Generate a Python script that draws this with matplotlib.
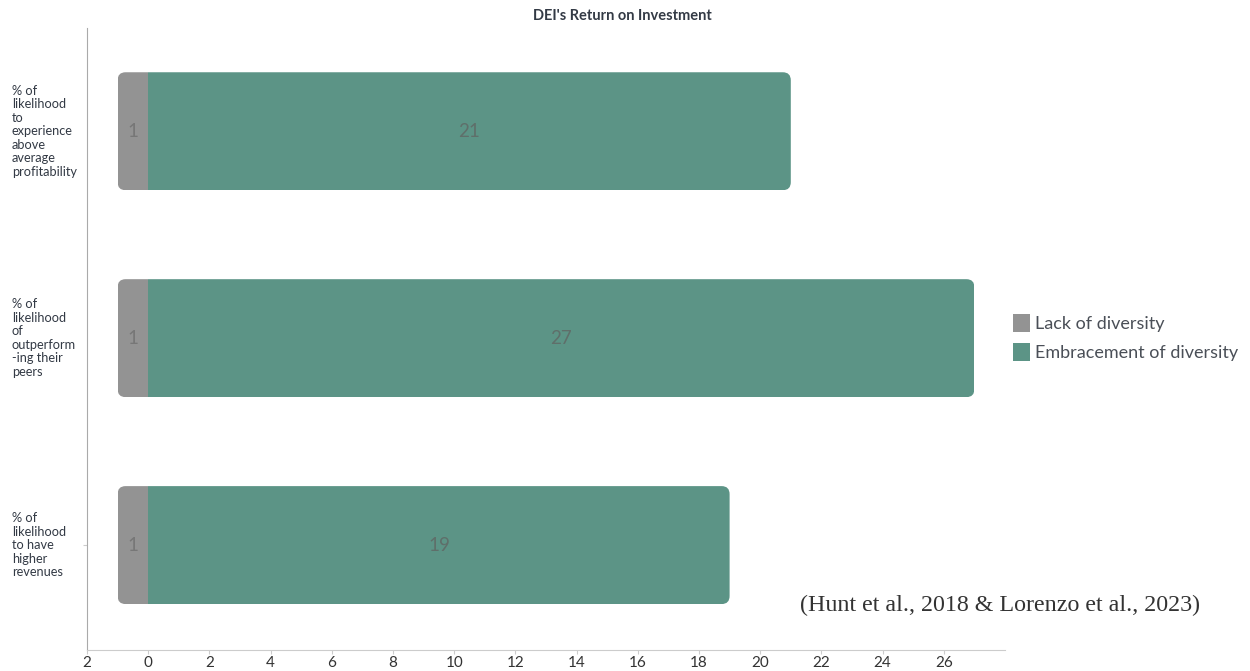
import numpy as np
import matplotlib.pyplot as plt
from matplotlib.patches import FancyBboxPatch

# data
categories = [
    "% of\nlikelihood\nto\nexperience\nabove\naverage\nprofitability",
    "% of\nlikelihood\nof\noutperform\n-ing their\npeers",
    "% of\nlikelihood\nto have\nhigher\nrevenues",
]
lack = [1, 1, 1]
embrace = [21, 27, 19]
x_ticks = list(range(-2, 28, 2))

plt.rcParams['font.family'] = ['Lato', 'DejaVu Sans']

fig = plt.figure(figsize=(12.5, 6.71), dpi=100)
ax = fig.add_axes([0.0696, 0.0313, 0.7344, 0.9267])

y = np.arange(len(categories))
h = 0.57
gray = '#939393'
green = '#5c9486'

ax.set_xlim(-2, 28)
ax.set_ylim(2.507, -0.498)

bars_l = ax.barh(y, [-v for v in lack], height=h, color=gray, label='Lack of diversity')
bars_e = ax.barh(y, embrace, height=h, color=green, label='Embracement of diversity')

# rounded outer corners: clip both segments to a rounded box
for i in range(len(categories)):
    clip = FancyBboxPatch((-lack[i], y[i] - h / 2), lack[i] + embrace[i], h,
                          boxstyle='round,pad=0,rounding_size=0.26',
                          mutation_aspect=0.15, transform=ax.transData,
                          facecolor='none', edgecolor='none')
    ax.add_patch(clip)
    bars_l[i].set_clip_path(clip)
    bars_e[i].set_clip_path(clip)

for i in range(len(categories)):
    ax.text(-lack[i] / 2, y[i], str(lack[i]), ha='center', va='center',
            fontsize=13.5, color='#777777')
    ax.text(embrace[i] / 2, y[i], str(embrace[i]), ha='center', va='center',
            fontsize=13.5, color='#5f6f6a')

ax.set_xticks(x_ticks)
ax.set_xticklabels([str(abs(t)) for t in x_ticks], fontsize=11, color='#333333')
ax.set_yticks([y[-1]])
ax.set_yticklabels([])
ax.tick_params(axis='x', length=3, color='#cccccc', pad=1)
ax.tick_params(axis='y', length=3, color='#cccccc')

for s in ['top', 'right']:
    ax.spines[s].set_visible(False)
ax.spines['bottom'].set_color('#cccccc')
ax.spines['left'].set_color('#aaaaaa')

for i, c in enumerate(categories):
    ax.annotate(c, xy=(0, y[i]), xycoords=('figure fraction', 'data'),
                xytext=(12, 0), textcoords='offset pixels',
                ha='left', va='center', fontsize=9.2, color='#333a45',
                linespacing=1.15)

fig.text(0.498, 0.976, "DEI's Return on Investment", ha='center', va='center',
         fontsize=10.5, fontweight='bold', color='#333a45')

leg = fig.legend(loc='center left', bbox_to_anchor=(0.797, 0.497), frameon=False,
                 fontsize=13, handlelength=0.95, handleheight=1.15,
                 handletextpad=0.3, labelspacing=0.6, labelcolor='#4a4f57')

fig.text(0.64, 0.098, "(Hunt et al., 2018 & Lorenzo et al., 2023)",
         ha='left', va='center', fontsize=17.3, color='#333333',
         family=['Liberation Serif', 'DejaVu Serif'])

fig.savefig('out.png', dpi=100)
